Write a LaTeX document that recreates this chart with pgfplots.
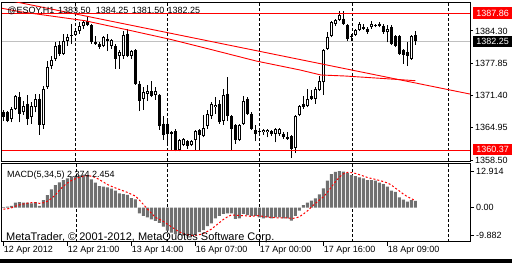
\documentclass[border=0pt]{standalone}
\usepackage{fontspec}
\setmainfont{Liberation Sans}
\usepackage{pgfplots}
\usepackage{pgfplotstable}
\pgfplotsset{compat=1.18}
\definecolor{histgray}{RGB}{112,112,112}
\definecolor{bidgray}{RGB}{192,192,192}
\definecolor{mtred}{RGB}{255,0,0}

\pgfplotstableread{
i o h l c
0 1368.00 1368.50 1366.25 1367.00
1 1368.00 1368.25 1366.00 1366.25
2 1366.75 1369.00 1366.00 1368.75
3 1368.75 1371.50 1368.50 1371.25
4 1371.00 1372.00 1366.00 1367.75
5 1368.00 1370.25 1367.50 1369.25
6 1369.75 1371.50 1365.50 1366.75
7 1367.00 1370.00 1365.75 1369.25
8 1369.00 1371.75 1368.00 1370.75
9 1370.75 1371.75 1363.50 1365.50
10 1365.50 1373.25 1364.75 1372.75
11 1373.00 1378.25 1372.75 1377.00
12 1377.25 1379.25 1376.75 1378.50
13 1378.75 1382.00 1378.25 1381.25
14 1381.50 1382.25 1379.25 1379.75
15 1379.75 1383.75 1379.50 1382.25
16 1382.25 1383.75 1381.25 1383.00
17 1383.25 1385.75 1381.75 1383.50
18 1383.50 1384.75 1383.25 1384.25
19 1384.25 1386.00 1383.75 1385.25
20 1385.25 1386.50 1384.75 1386.00
21 1386.25 1387.00 1385.25 1385.50
22 1385.50 1385.75 1381.75 1382.00
23 1382.00 1383.25 1381.50 1381.75
24 1381.75 1382.00 1380.75 1381.00
25 1381.25 1383.25 1381.00 1383.00
26 1382.75 1383.75 1380.25 1382.25
27 1381.25 1382.75 1380.75 1382.50
28 1381.25 1381.75 1376.75 1378.75
29 1379.25 1380.50 1376.75 1380.00
30 1379.25 1384.25 1378.75 1383.50
31 1383.75 1384.75 1379.00 1379.25
32 1379.25 1380.50 1378.75 1380.25
33 1380.50 1380.75 1373.50 1373.75
34 1373.75 1374.25 1368.25 1370.25
35 1370.75 1373.00 1368.50 1372.00
36 1371.75 1373.50 1370.25 1372.25
37 1372.25 1374.25 1371.00 1371.25
38 1371.50 1373.00 1370.50 1372.25
39 1371.50 1371.75 1364.50 1365.25
40 1365.75 1367.25 1362.50 1363.50
41 1365.75 1366.25 1361.50 1363.75
42 1364.00 1364.25 1360.50 1363.75
43 1364.25 1364.75 1360.25 1360.50
44 1360.50 1362.75 1360.25 1362.50
45 1361.50 1363.00 1361.25 1362.75
46 1362.25 1362.50 1360.75 1361.25
47 1361.50 1362.50 1361.25 1362.25
48 1362.50 1364.50 1360.50 1364.25
49 1364.50 1364.75 1360.50 1363.50
50 1363.25 1367.50 1363.00 1365.00
51 1365.25 1368.50 1364.75 1367.75
52 1367.25 1370.00 1366.75 1369.75
53 1369.00 1371.00 1367.75 1369.50
54 1369.75 1370.50 1365.75 1366.00
55 1366.25 1372.75 1365.50 1371.50
56 1371.75 1375.00 1366.25 1367.25
57 1367.25 1367.50 1360.50 1364.75
58 1365.50 1365.75 1361.75 1362.50
59 1362.50 1365.75 1362.25 1365.50
60 1365.75 1371.25 1365.50 1370.25
61 1370.75 1371.00 1367.50 1367.75
62 1367.75 1368.00 1364.50 1364.75
63 1364.50 1365.50 1362.25 1363.75
64 1364.25 1365.00 1363.25 1364.00
65 1364.00 1364.75 1363.50 1364.50
66 1364.00 1364.75 1363.00 1364.50
67 1364.25 1364.50 1363.25 1363.75
68 1363.75 1365.00 1362.00 1364.75
69 1363.75 1365.00 1363.25 1364.75
70 1363.75 1364.00 1362.75 1363.00
71 1363.00 1364.00 1362.50 1362.75
72 1363.25 1363.50 1359.00 1360.75
73 1361.00 1367.50 1360.00 1367.25
74 1367.50 1369.50 1367.25 1369.25
75 1369.75 1371.25 1368.75 1369.00
76 1369.25 1372.75 1369.00 1370.75
77 1371.25 1372.50 1370.50 1370.75
78 1370.75 1373.00 1369.75 1372.75
79 1372.50 1375.25 1372.25 1374.25
80 1374.00 1380.75 1371.50 1380.50
81 1380.75 1384.00 1380.50 1383.00
82 1383.25 1386.25 1383.00 1386.00
83 1385.75 1386.75 1385.25 1386.50
84 1386.50 1388.25 1386.25 1387.50
85 1386.75 1388.25 1385.50 1385.75
86 1385.50 1385.75 1382.25 1382.75
87 1383.25 1383.75 1382.25 1383.00
88 1383.50 1384.75 1383.25 1384.50
89 1384.50 1386.00 1384.25 1385.75
90 1384.75 1385.75 1384.50 1385.00
91 1384.75 1385.00 1383.75 1384.00
92 1385.00 1386.25 1384.75 1385.75
93 1385.50 1385.75 1385.00 1385.25
94 1385.75 1386.00 1385.00 1385.25
95 1385.25 1385.75 1383.75 1384.00
96 1384.00 1385.50 1382.00 1384.75
97 1385.00 1385.50 1381.50 1381.75
98 1383.25 1383.50 1381.00 1381.25
99 1383.25 1383.50 1379.50 1379.75
100 1380.50 1380.75 1377.75 1379.50
101 1380.00 1382.00 1377.25 1379.25
102 1378.75 1383.50 1378.50 1383.25
103 1383.50 1384.25 1381.50 1382.25
}\candles

\pgfplotstableread{
i m s
0 0.2 -0.5
1 0.35 -0.4
2 0.6 -0.1
3 1.76 0.5
4 2.0 0.98
5 1.76 1.29
6 1.76 1.58
7 1.52 1.76
8 2.0 1.81
9 0.6 1.53
10 2.7 1.72
11 4.46 2.26
12 6.45 3.24
13 7.98 4.44
14 8.9 6.10
15 9.74 7.51
16 10.3 8.67
17 10.9 9.56
18 11.1 10.19
19 11.4 10.69
20 11.6 11.06
21 11.5 11.3
22 9.97 11.11
23 8.8 10.65
24 7.6 9.89
25 7.4 9.05
26 7.15 8.18
27 6.7 7.53
28 6.0 6.97
29 5.0 6.45
30 4.8 5.93
31 4.5 5.4
32 3.4 4.74
33 2.9 4.12
34 -2.0 2.72
35 -2.9 1.18
36 -3.4 -0.4
37 -4.1 -1.9
38 -4.6 -3.4
39 -5.3 -4.06
40 -6.7 -4.82
41 -8.1 -5.76
42 -8.8 -6.7
43 -9.3 -7.64
44 -9.6 -8.5
45 -9.8 -9.16
46 -9.88 -9.52
47 -9.7 -9.7
48 -9.3 -9.7
49 -8.6 -9.5
50 -7.9 -9.08
51 -6.45 -8.39
52 -5.5 -7.55
53 -3.75 -6.44
54 -2.9 -5.3
55 -2.2 -4.16
56 -2.0 -3.27
57 -2.0 -2.57
58 -3.9 -2.6
59 -3.75 -2.77
60 -2.2 -2.77
61 -2.6 -2.89
62 -2.9 -3.07
63 -2.9 -2.87
64 -3.4 -2.8
65 -3.75 -3.11
66 -3.4 -3.27
67 -3.75 -3.44
68 -3.4 -3.54
69 -3.4 -3.54
70 -3.75 -3.54
71 -3.75 -3.61
72 -4.56 -3.77
73 -2.9 -3.67
74 -1.05 -3.2
75 0.94 -2.26
76 1.76 -1.16
77 2.46 0.24
78 3.28 1.48
79 4.7 2.63
80 6.8 3.8
81 9.5 5.35
82 11.85 7.23
83 12.6 9.09
84 12.914 10.73
85 12.7 11.91
86 12.2 12.45
87 11.5 12.38
88 11.1 12.08
89 10.7 11.64
90 10.3 11.16
91 9.7 10.66
92 9.7 10.3
93 9.5 9.98
94 8.8 9.6
95 8.3 9.2
96 7.4 8.74
97 6.0 8.0
98 5.6 6.9
99 3.6 5.9
100 2.8 4.8
101 2.1 3.9
102 2.7 3.2
103 2.374 2.454
}\macd

\begin{document}
\begin{tikzpicture}
\useasboundingbox (0,0) rectangle (512pt,263pt);
\fill[white] (0,0) rectangle (512pt,263pt);
\pgfplotsset{
  mtframe/.style={
    scale only axis, width=468pt, anchor=south west,
    xmin=-0.325, xmax=116.675,
    axis line style={line width=1pt},
    tick align=outside, major tick length=3pt,
    tick style={black, line width=1pt},
    ytick pos=right, yticklabel pos=right,
    yticklabel style={anchor=west, inner sep=0pt, xshift=2pt, font=\fontsize{9}{10}\selectfont},
    extra x ticks={18.175,40.925,63.925,87.175,111.175},
    extra x tick labels={},
    extra x tick style={grid=major, major tick length=0pt,
      major grid style={black, line width=1pt, dash pattern=on 3pt off 2pt}},
  }
}
\begin{axis}[mtframe,
  at={(2pt,102pt)}, height=158pt,
  ymin=1358.3, ymax=1389.9,
  xtick=\empty,
  ytick={1384.30,1377.85,1371.40,1364.95,1358.50},
  yticklabels={1384.30,1377.85,1371.40,1364.95,1358.50},
]
\addplot[bidgray, line width=1pt] coordinates {(-0.325,1382.25) (116.675,1382.25)};
% wicks
\addplot[black, line width=1pt, quiver={u=0, v={\thisrow{h}-\thisrow{l}}}] table[x=i, y=l] {\candles};
% bodies
\addplot[black, line width=3pt, quiver={u=0, v={\thisrow{c}-\thisrow{o}}}] table[x=i, y=o] {\candles};
% hollow interior of up candles
\addplot[white, line width=1pt,
  quiver={u=0, v={\thisrow{c}-\thisrow{o}}, every arrow/.append style={shorten <=1pt, shorten >=1pt}},
  restrict expr to domain={\thisrow{c}-\thisrow{o}}{0.4:100}] table[x=i, y=o] {\candles};
% horizontal lines
\addplot[mtred, line width=1.2pt] coordinates {(-0.325,1387.86) (116.675,1387.86)};
\addplot[mtred, line width=1.2pt] coordinates {(-0.325,1360.37) (116.675,1360.37)};
% trend line
\addplot[mtred, line width=0.9pt] coordinates {(-0.325,1390.69) (116.675,1371.69)};
% moving average
\addplot[mtred, line width=0.9pt] coordinates {
(-0.33,1388.84) (4.2,1388.16) (20.4,1386.36) (31.2,1384.5) (41.7,1382.64)
(52.4,1380.5) (63.2,1378.3) (74.2,1376.5) (79.4,1375.5) (85.4,1375.3)
(94.2,1374.84) (103,1374.36)};
\end{axis}

\begin{axis}[mtframe,
  at={(2pt,21.3pt)}, height=78.2pt,
  ymin=-11.97, ymax=15.56,
  xtick={0,16,32,48,64,80,96},
  xticklabels={12 Apr 2012,12 Apr 21:00,13 Apr 14:00,16 Apr 07:00,17 Apr 00:00,17 Apr 16:00,18 Apr 09:00},
  xtick pos=left, major tick length=4pt,
  xticklabel style={anchor=north west, inner sep=0pt, xshift=0.3pt, font=\fontsize{9}{10}\selectfont},
  ytick={12.914,0,-9.882},
  yticklabels={12.914,0.00,-9.882},
]
\addplot[ybar, bar width=3pt, fill=histgray, draw=none] table[x=i, y=m] {\macd};
\addplot[mtred, line width=1pt, dash pattern=on 2pt off 2pt] table[x=i, y=s] {\macd};
\end{axis}

% header texts
\node[anchor=base west, inner sep=0pt, font=\fontsize{9}{10}\selectfont] at (7.3pt,249pt) {@ESOY,H1};
\node[anchor=base west, inner sep=0pt, font=\fontsize{9}{10}\selectfont] at (58pt,249pt) {1383.50};
\node[anchor=base west, inner sep=0pt, font=\fontsize{9}{10}\selectfont] at (95.7pt,249pt) {1384.25};
\node[anchor=base west, inner sep=0pt, font=\fontsize{9}{10}\selectfont] at (131.7pt,249pt) {1381.50};
\node[anchor=base west, inner sep=0pt, font=\fontsize{9}{10}\selectfont] at (167.3pt,249pt) {1382.25};
\node[anchor=base west, inner sep=0pt, font=\fontsize{9}{10}\selectfont] at (7pt,86pt) {MACD(5,34,5) 2.374 2.454};
\node[anchor=base west, inner sep=0pt, font=\fontsize{11}{12}\selectfont] at (6pt,22.5pt) {MetaTrader, © 2001-2012, MetaQuotes Software Corp.};
% price boxes
\node[anchor=north west, fill=mtred, text=white, inner sep=0pt, minimum width=39.3pt, minimum height=12pt, font=\fontsize{9}{10}\selectfont] at (472.7pt,255.7pt) {1387.86};
\node[anchor=north west, fill=black, text=white, inner sep=0pt, minimum width=39.3pt, minimum height=11pt, font=\fontsize{9}{10}\selectfont] at (472.7pt,227pt) {1382.25};
\node[anchor=north west, fill=mtred, text=white, inner sep=0pt, minimum width=39.3pt, minimum height=11.7pt, font=\fontsize{9}{10}\selectfont] at (472.7pt,119.7pt) {1360.37};
% bottom window edge
\fill[black] (0,0) rectangle (512pt,3.7pt);
\end{tikzpicture}
\end{document}
